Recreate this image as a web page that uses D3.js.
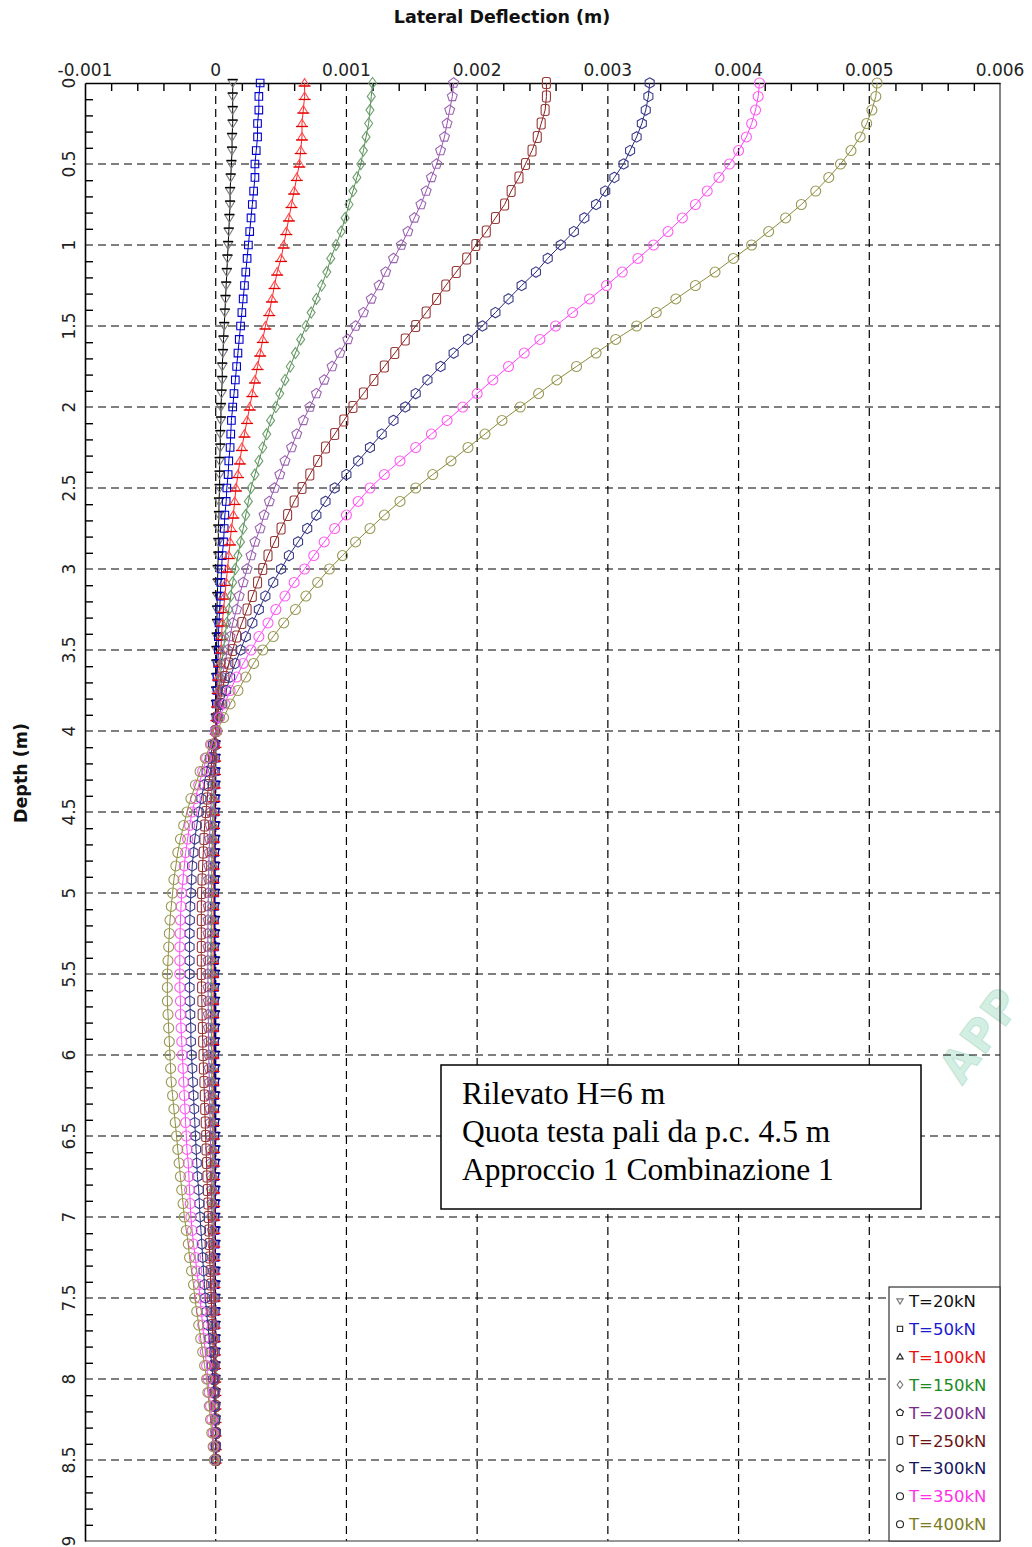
<!DOCTYPE html>
<html><head><meta charset="utf-8">
<script src="https://cdn.jsdelivr.net/npm/d3@7"></script>
<style>body{margin:0;background:#fff}svg{display:block}</style>
</head><body>
<svg id="chart" width="1032" height="1547"></svg>
<script>
// Depth of each computed point (m)
const depth = [0,0.083,0.167,0.25,0.333,0.417, 0.5,0.583,0.667,0.75,0.833,0.917, 1,1.083,1.167,1.25,1.333,1.417, 1.5,1.583,1.667,1.75,1.833,1.917, 2,2.083,2.167,2.25,2.333,2.417, 2.5,2.583,2.667,2.75,2.833,2.917, 3,3.083,3.167,3.25,3.333,3.417, 3.5,3.583,3.667,3.75,3.833,3.917, 4,4.083,4.167,4.25,4.333,4.417, 4.5,4.583,4.667,4.75,4.833,4.917, 5,5.083,5.167,5.25,5.333,5.417, 5.5,5.583,5.667,5.75,5.833,5.917, 6,6.083,6.167,6.25,6.333,6.417, 6.5,6.583,6.667,6.75,6.833,6.917, 7,7.083,7.167,7.25,7.333,7.417, 7.5,7.583,7.667,7.75,7.833,7.917, 8,8.083,8.167,8.25,8.333,8.417, 8.5];

// Lateral deflection values in mm (x 0.001 m)
const T20 = [0.13,0.13,0.13,0.13,0.125,0.125,0.12,0.115,0.11,0.11, 0.105,0.10,0.095,0.09,0.085,0.08,0.075,0.07,0.065,0.06, 0.055,0.05,0.05,0.045,0.04,0.04,0.035,0.035,0.03,0.03, 0.03,0.025,0.025,0.02,0.02,0.02,0.015,0.015,0.012,0.01, 0.01,0.008,0.006,0.005,0.004,0.003,0.002,0.001,0,-0.001, -0.001,-0.002,-0.002,-0.003,-0.003,-0.003,-0.004,-0.004,-0.004,-0.004, -0.005,-0.005,-0.005,-0.005,-0.005,-0.005,-0.005,-0.005,-0.005,-0.005, -0.005,-0.005,-0.004,-0.004,-0.004,-0.004,-0.004,-0.004,-0.003,-0.003, -0.003,-0.003,-0.003,-0.003,-0.003,-0.002,-0.002,-0.002,-0.002,-0.002, -0.002,-0.002,-0.001,-0.001,-0.001,-0.001,-0.001,-0.001,0,0, 0,0,0];
const T50 = [0.34,0.33,0.33,0.32,0.32,0.31,0.30,0.30,0.29,0.28, 0.27,0.26,0.25,0.24,0.23,0.22,0.21,0.20,0.19,0.18, 0.17,0.16,0.15,0.14,0.13,0.12,0.115,0.11,0.10,0.095, 0.085,0.08,0.07,0.065,0.06,0.05,0.045,0.04,0.035,0.03, 0.025,0.02,0.02,0.015,0.01,0.01,0.005,0.003,0,-0.001, -0.002,-0.003,-0.004,-0.005,-0.006,-0.007,-0.007,-0.008,-0.008,-0.009, -0.009,-0.01,-0.01,-0.01,-0.01,-0.01,-0.01,-0.01,-0.01,-0.01, -0.009,-0.009,-0.009,-0.009,-0.008,-0.008,-0.008,-0.008,-0.007,-0.007, -0.007,-0.007,-0.006,-0.006,-0.006,-0.006,-0.005,-0.005,-0.005,-0.005, -0.004,-0.004,-0.004,-0.003,-0.003,-0.003,-0.002,-0.002,-0.002,-0.001, -0.001,0,0];
const T100 = [0.68,0.68,0.67,0.66,0.66,0.65,0.64,0.62,0.60,0.58, 0.56,0.54,0.52,0.50,0.47,0.45,0.43,0.41,0.38,0.36, 0.34,0.32,0.30,0.28,0.26,0.24,0.22,0.20,0.185,0.17, 0.155,0.145,0.135,0.12,0.11,0.10,0.09,0.08,0.07,0.06, 0.05,0.045,0.04,0.03,0.02,0.015,0.01,0.005,0,-0.002, -0.004,-0.006,-0.008,-0.01,-0.012,-0.013,-0.014,-0.015,-0.016,-0.017, -0.018,-0.018,-0.019,-0.019,-0.02,-0.02,-0.02,-0.02,-0.019,-0.019, -0.019,-0.018,-0.018,-0.017,-0.017,-0.016,-0.016,-0.015,-0.015,-0.014, -0.014,-0.013,-0.013,-0.012,-0.012,-0.011,-0.011,-0.01,-0.01,-0.009, -0.009,-0.008,-0.008,-0.007,-0.006,-0.005,-0.004,-0.003,-0.002,-0.002, -0.001,0,0];
const T150 = [1.20,1.19,1.18,1.17,1.15,1.13,1.11,1.08,1.05,1.02, 0.99,0.96,0.92,0.88,0.85,0.81,0.77,0.73,0.69,0.65, 0.61,0.57,0.53,0.49,0.46,0.42,0.39,0.36,0.33,0.30, 0.27,0.25,0.23,0.21,0.19,0.17,0.15,0.13,0.115,0.10, 0.085,0.07,0.06,0.045,0.035,0.025,0.015,0.008,0,-0.003, -0.007,-0.011,-0.015,-0.018,-0.021,-0.024,-0.026,-0.028,-0.03,-0.031, -0.032,-0.033,-0.034,-0.034,-0.035,-0.035,-0.035,-0.034,-0.034,-0.033, -0.033,-0.032,-0.031,-0.03,-0.029,-0.028,-0.027,-0.026,-0.025,-0.024, -0.023,-0.022,-0.021,-0.02,-0.019,-0.018,-0.017,-0.016,-0.015,-0.014, -0.013,-0.012,-0.011,-0.01,-0.009,-0.008,-0.007,-0.006,-0.005,-0.004, -0.003,-0.002,-0.001];
const T200 = [1.82,1.81,1.79,1.77,1.75,1.72,1.69,1.65,1.61,1.57, 1.52,1.47,1.42,1.36,1.30,1.25,1.19,1.13,1.07,1.01, 0.95,0.89,0.83,0.77,0.72,0.67,0.62,0.58,0.53,0.49, 0.45,0.41,0.37,0.34,0.30,0.27,0.24,0.21,0.18,0.16, 0.13,0.11,0.09,0.07,0.05,0.035,0.02,0.01,0,-0.005, -0.012,-0.02,-0.027,-0.033,-0.038,-0.043,-0.047,-0.05,-0.053,-0.055, -0.057,-0.058,-0.059,-0.06,-0.06,-0.06,-0.06,-0.059,-0.058,-0.057, -0.056,-0.055,-0.053,-0.051,-0.049,-0.047,-0.045,-0.043,-0.041,-0.039, -0.037,-0.035,-0.033,-0.031,-0.029,-0.027,-0.025,-0.023,-0.021,-0.019, -0.017,-0.015,-0.013,-0.011,-0.009,-0.007,-0.005,-0.004,-0.003,-0.002, -0.001,0,0];
const T250 = [2.53,2.53,2.52,2.49,2.46,2.42,2.37,2.32,2.26,2.21, 2.14,2.07,1.99,1.92,1.84,1.76,1.69,1.61,1.53,1.45, 1.37,1.29,1.21,1.13,1.05,0.98,0.91,0.84,0.78,0.72, 0.66,0.60,0.55,0.50,0.45,0.40,0.36,0.32,0.28,0.24, 0.20,0.16,0.13,0.10,0.07,0.05,0.03,0.01,0,-0.01, -0.025,-0.04,-0.055,-0.065,-0.075,-0.085,-0.09,-0.095,-0.10,-0.105, -0.108,-0.11,-0.11,-0.11,-0.11,-0.11,-0.11,-0.108,-0.106,-0.104, -0.102,-0.10,-0.097,-0.094,-0.09,-0.087,-0.084,-0.08,-0.077,-0.074, -0.07,-0.067,-0.064,-0.06,-0.057,-0.053,-0.05,-0.046,-0.042,-0.038, -0.034,-0.03,-0.026,-0.022,-0.018,-0.014,-0.01,-0.007,-0.004,-0.002, 0,0,0];
const T300 = [3.32,3.31,3.29,3.26,3.22,3.17,3.12,3.05,2.98,2.91, 2.82,2.74,2.64,2.54,2.45,2.34,2.24,2.14,2.04,1.93, 1.82,1.72,1.62,1.53,1.45,1.36,1.27,1.18,1.09,1.00, 0.91,0.84,0.77,0.70,0.63,0.56,0.50,0.44,0.38,0.33, 0.28,0.23,0.19,0.15,0.11,0.08,0.05,0.02,0,-0.02, -0.045,-0.07,-0.09,-0.11,-0.13,-0.145,-0.16,-0.17,-0.18,-0.185, -0.19,-0.195,-0.198,-0.20,-0.20,-0.20,-0.20,-0.20,-0.198,-0.195, -0.19,-0.19,-0.185,-0.18,-0.175,-0.17,-0.165,-0.16,-0.155,-0.15, -0.145,-0.14,-0.13,-0.125,-0.12,-0.113,-0.106,-0.10,-0.093,-0.086, -0.08,-0.07,-0.06,-0.05,-0.04,-0.03,-0.02,-0.015,-0.01,-0.005, 0,0,0];
const T350 = [4.16,4.15,4.13,4.10,4.06,4.00,3.93,3.85,3.76,3.67, 3.57,3.46,3.35,3.23,3.11,2.99,2.86,2.73,2.60,2.48, 2.36,2.24,2.12,2.00,1.89,1.77,1.65,1.53,1.41,1.29, 1.18,1.09,1.00,0.91,0.83,0.75,0.68,0.60,0.53,0.46, 0.40,0.33,0.27,0.21,0.16,0.11,0.07,0.03,0,-0.03, -0.07,-0.10,-0.13,-0.155,-0.18,-0.20,-0.215,-0.23,-0.24,-0.25, -0.26,-0.265,-0.27,-0.272,-0.275,-0.275,-0.275,-0.275,-0.27,-0.27, -0.265,-0.26,-0.255,-0.25,-0.245,-0.24,-0.235,-0.23,-0.225,-0.22, -0.21,-0.205,-0.20,-0.195,-0.19,-0.18,-0.17,-0.155,-0.145,-0.13, -0.12,-0.11,-0.10,-0.09,-0.08,-0.07,-0.06,-0.05,-0.04,-0.03, -0.02,-0.015,-0.01];
const T400 = [5.06,5.05,5.02,4.98,4.93,4.86,4.78,4.69,4.59,4.48, 4.36,4.23,4.10,3.96,3.82,3.67,3.52,3.37,3.22,3.06, 2.91,2.76,2.61,2.47,2.33,2.19,2.06,1.93,1.80,1.66, 1.53,1.41,1.29,1.18,1.07,0.97,0.87,0.78,0.69,0.61, 0.52,0.44,0.36,0.29,0.23,0.17,0.11,0.06,0.01,-0.04, -0.08,-0.12,-0.155,-0.19,-0.22,-0.245,-0.27,-0.29,-0.305,-0.32, -0.33,-0.34,-0.35,-0.355,-0.36,-0.365,-0.37,-0.37,-0.37,-0.365, -0.36,-0.355,-0.35,-0.345,-0.34,-0.33,-0.32,-0.31,-0.30,-0.29, -0.28,-0.27,-0.26,-0.25,-0.24,-0.225,-0.21,-0.20,-0.185,-0.17, -0.16,-0.145,-0.13,-0.115,-0.10,-0.085,-0.07,-0.06,-0.05,-0.04, -0.03,-0.02,-0.01];

const seriesNames = ["T=20kN","T=50kN","T=100kN","T=150kN","T=200kN","T=250kN","T=300kN","T=350kN","T=400kN"];
const seriesValues = [T20, T50, T100, T150, T200, T250, T300, T350, T400];
const xTickValues = [-1,0,1,2,3,4,5,6];
const xTickLabels = ["-0.001","0","0.001","0.002","0.003","0.004","0.005","0.006"];
const yTickValues = [0,0.5,1,1.5,2,2.5,3,3.5,4,4.5,5,5.5,6,6.5,7,7.5,8,8.5,9];
const yTickLabels = ["0","0.5","1","1.5","2","2.5","3","3.5","4","4.5","5","5.5","6","6.5","7","7.5","8","8.5","9"];
const noteLines = ["Rilevato H=6 m","Quota testa pali da p.c. 4.5 m","Approccio 1 Combinazione 1"];

// ---- styling ----
const lineColors   = ["#000000","#0000c8","#ff2020","#4d8c4d","#9b4fb5","#8c1c1c","#2a2a80","#ff40ff","#8c8c3a"];
const markerColors = ["#7a7a7a","#0000d0","#ff4a4a","#6f9f6f","#9a66b0","#9a3a3a","#3c3c8c","#ff5cf0","#999955"];
const legendColors = ["#111111","#1a1ad0","#e81010","#1e8a1e","#7b2a8c","#6b1414","#141460","#ff30e8","#7c7c20"];
const shapes = ["triDown","square","triUp","diamond","pentagon","roundRect","hexagon","circle","circle"];

function poly(n, r, rot){
  const pts=[];
  for(let i=0;i<n;i++){const a=(rot+360*i/n)*Math.PI/180;pts.push([r*Math.cos(a),r*Math.sin(a)]);}
  return "M"+pts.map(p=>p[0].toFixed(2)+","+p[1].toFixed(2)).join("L")+"Z";
}
function shapePath(s, k){
  k = k||1;
  switch(s){
    case "triDown": return `M0,${4.5*k}L${-4.5*k},${-3*k}L${4.5*k},${-3*k}Z`;
    case "triUp": return `M0,${-4.5*k}L${-4.5*k},${3*k}L${4.5*k},${3*k}Z`;
    case "square": return `M${-3.8*k},${-3.8*k}h${7.6*k}v${7.6*k}h${-7.6*k}Z`;
    case "diamond": return `M0,${-5.5*k}L${4*k},0L0,${5.5*k}L${-4*k},0Z`;
    case "pentagon": return poly(5, 5.2*k, -90);
    case "hexagon": return poly(6, 5.2*k, -90);
    case "roundRect": {
      const w=4*k,h=5.5*k,c=2.2*k;
      return `M${-w},${-h+c}Q${-w},${-h} ${-w+c},${-h}L${w-c},${-h}Q${w},${-h} ${w},${-h+c}L${w},${h-c}Q${w},${h} ${w-c},${h}L${-w+c},${h}Q${-w},${h} ${-w},${h-c}Z`;
    }
    default: { const r=5*k; return `M${-r},0A${r},${r} 0 1,0 ${r},0A${r},${r} 0 1,0 ${-r},0Z`; }
  }
}

const svg = d3.select("#chart");
const L=85, R=1000, T=83, B=1541;
const x = d3.scaleLinear().domain([-1,6]).range([L,R]);
const y = d3.scaleLinear().domain([0,9]).range([T,B]);

// watermark
svg.append("text").attr("transform","translate(962,1086) rotate(-54)")
  .attr("font-family","DejaVu Sans, sans-serif").attr("font-weight","bold").attr("font-size",44)
  .attr("letter-spacing",2)
  .attr("fill","#d3efe3").attr("stroke","#bfe4d3").attr("stroke-width",1)
  .text("APP");

// grid
const grid = svg.append("g").attr("stroke","#000").attr("stroke-width",1.2).attr("stroke-dasharray","8,5");
grid.selectAll("line.v").data([0,1,2,3,4,5]).join("line")
  .attr("x1",d=>x(d)).attr("x2",d=>x(d)).attr("y1",T).attr("y2",B);
grid.selectAll("line.h").data([0.5,1,1.5,2,2.5,3,3.5,4,4.5,5,5.5,6,6.5,7,7.5,8,8.5]).join("line")
  .attr("x1",L).attr("x2",R).attr("y1",d=>y(d)).attr("y2",d=>y(d));

// frame (right & bottom)
svg.append("line").attr("x1",R).attr("x2",R).attr("y1",T).attr("y2",B).attr("stroke","#333").attr("stroke-width",1.2);
svg.append("line").attr("x1",L).attr("x2",R).attr("y1",B).attr("y2",B).attr("stroke","#333").attr("stroke-width",1.2);

// top axis minor ticks
const xMinor = d3.range(-1,6.0001,0.2).filter(v=>Math.abs(v-Math.round(v))>1e-6);
const xAx = svg.append("g").attr("transform",`translate(0,${T})`)
  .call(d3.axisTop(x).tickValues(xMinor).tickSize(-8).tickSizeOuter(0).tickFormat(""));
xAx.select(".domain").attr("stroke","#000").attr("stroke-width",1.6);
xAx.selectAll(".tick line").attr("stroke","#000").attr("stroke-width",1.4);

// left axis minor ticks
const yMinor = d3.range(0,9.0001,0.1).filter(v=>Math.abs(v*2-Math.round(v*2))>1e-6);
const yAx = svg.append("g").attr("transform",`translate(${L},0)`)
  .call(d3.axisLeft(y).tickValues(yMinor).tickSize(-8).tickSizeOuter(0).tickFormat(""));
yAx.select(".domain").attr("stroke","#000").attr("stroke-width",1.6);
yAx.selectAll(".tick line").attr("stroke","#000").attr("stroke-width",1.4);

// tick labels
svg.append("g").selectAll("text").data(xTickValues).join("text")
  .attr("x",d=>x(d)).attr("y",76).attr("text-anchor","middle")
  .attr("font-family","DejaVu Sans, sans-serif").attr("font-size",17).attr("fill","#222")
  .text((d,i)=>xTickLabels[i]);
svg.append("g").selectAll("text").data(yTickValues).join("text")
  .attr("transform",d=>`translate(75,${y(d)}) rotate(-90)`).attr("text-anchor","middle")
  .attr("font-family","DejaVu Sans, sans-serif").attr("font-size",17).attr("fill","#222")
  .text((d,i)=>yTickLabels[i]);

// axis titles
svg.append("text").attr("x",502).attr("y",23).attr("text-anchor","middle")
  .attr("font-family","DejaVu Sans, sans-serif").attr("font-weight","bold").attr("font-size",17.5).attr("fill","#111")
  .text("Lateral Deflection (m)");
svg.append("text").attr("transform","translate(27,773) rotate(-90)").attr("text-anchor","middle")
  .attr("font-family","DejaVu Sans, sans-serif").attr("font-weight","bold").attr("font-size",17.5).attr("fill","#111")
  .text("Depth (m)");

// series
const lineGen = d3.line().x(d=>x(d[0])).y(d=>y(d[1]));
seriesValues.forEach((vals,si)=>{
  const pts = vals.map((v,i)=>[v,depth[i]]);
  const g = svg.append("g");
  g.append("path").attr("d",lineGen(pts)).attr("fill","none").attr("stroke",lineColors[si]).attr("stroke-width",1);
  const m = g.selectAll("g.m").data(pts).join("g").attr("transform",d=>`translate(${x(d[0])},${y(d[1])})`);
  m.append("path").attr("d",shapePath(shapes[si])).attr("fill","none").attr("stroke",markerColors[si]).attr("stroke-width",1.1);
  if(si===0) m.append("line").attr("x1",-5).attr("x2",5).attr("y1",-3.5).attr("y2",-3.5).attr("stroke","#000").attr("stroke-width",1.4);
  if(si===2) m.append("line").attr("x1",-6).attr("x2",6).attr("y1",3).attr("y2",3).attr("stroke","#e00000").attr("stroke-width",1.3);
});

// note box
svg.append("rect").attr("x",441).attr("y",1065).attr("width",480).attr("height",144)
  .attr("fill","#fff").attr("stroke","#000").attr("stroke-width",1.5);
svg.append("g").selectAll("text").data(noteLines).join("text")
  .attr("x",462).attr("y",(d,i)=>1104+i*38)
  .attr("font-family","Liberation Serif, Times New Roman, serif").attr("font-size",31.5).attr("fill","#000")
  .text(d=>d);

// legend
const lg = svg.append("g");
lg.append("rect").attr("x",889).attr("y",1287).attr("width",111).attr("height",254)
  .attr("fill","#fff").attr("stroke","#333").attr("stroke-width",1.2);
const ent = lg.selectAll("g.e").data(seriesNames).join("g").attr("transform",(d,i)=>`translate(0,${1301+i*27.9})`);
ent.append("path").attr("transform","translate(900,0)").attr("d",(d,i)=>shapePath(shapes[i],0.7))
  .attr("fill","none").attr("stroke",(d,i)=>i===0||i===3?"#777":"#222").attr("stroke-width",1.1);
ent.append("text").attr("x",909).attr("y",6).attr("font-family","DejaVu Sans, sans-serif").attr("font-size",16.5)
  .attr("fill",(d,i)=>legendColors[i]).text(d=>d);
</script>
</body></html>
